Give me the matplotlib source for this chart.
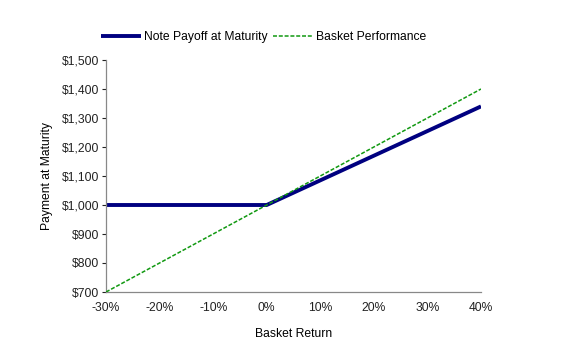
import numpy as np
import matplotlib
matplotlib.use('Agg')
import matplotlib.pyplot as plt
from matplotlib.ticker import FuncFormatter

plt.rcParams['font.family'] = ['Liberation Sans', 'DejaVu Sans']

#%% data
basket_return = [-30, 0, 40]           # %
note_payoff = [1000, 1000, 1340]       # $ per $1,000
basket_perf = [700, 1000, 1400]        # $
x_ticks = [-30, -20, -10, 0, 10, 20, 30, 40]
y_ticks = [700, 800, 900, 1000, 1100, 1200, 1300, 1400, 1500]

#%%
fig = plt.figure(figsize=(5.63, 3.49), dpi=100)
ax = fig.add_axes([106/563, 1-292/349, (481-106)/563, (292-60)/349])

ax.plot(basket_return, note_payoff, color='#000080', lw=2.8,
        solid_capstyle='butt', label='Note Payoff at Maturity', zorder=2)
ax.plot(basket_return, basket_perf, color='#119911', lw=1.1,
        ls=(0, (2.6, 1.2)), label='Basket Performance', zorder=3)

ax.set_xlim(-30, 40)
ax.set_ylim(700, 1500)
ax.set_xticks(x_ticks)
ax.set_yticks(y_ticks)
ax.xaxis.set_major_formatter(FuncFormatter(lambda v, p: '%d%%' % v))
ax.yaxis.set_major_formatter(FuncFormatter(lambda v, p: '${:,.0f}'.format(v)))
ax.tick_params(axis='both', labelsize=8.7, colors='#222222', width=0.8)
ax.tick_params(axis='x', length=0, pad=7)
ax.tick_params(axis='y', length=3, pad=2)
for s in ['top', 'right']:
    ax.spines[s].set_visible(False)
for s in ['left', 'bottom']:
    ax.spines[s].set_color('#888888')
    ax.spines[s].set_linewidth(0.9)

ax.set_xlabel('Basket Return', fontsize=8.7, labelpad=10)
ax.set_ylabel('Payment at Maturity', fontsize=8.7, labelpad=6)

ax.legend(loc='center', bbox_to_anchor=(263.5/563, 1-37/349), bbox_transform=fig.transFigure,
          ncol=2, frameon=False, fontsize=8.7, handlelength=3.3, handletextpad=0.3,
          columnspacing=0.4)

fig.savefig('out.png', dpi=100)
